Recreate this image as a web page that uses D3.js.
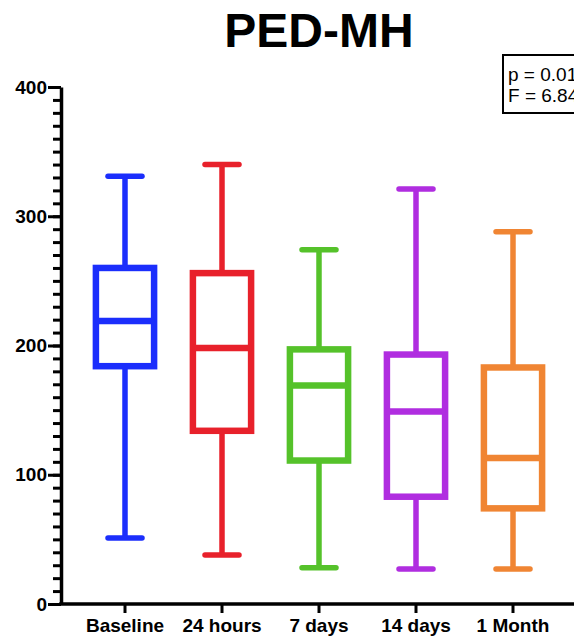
<!DOCTYPE html>
<html>
<head>
<meta charset="utf-8">
<script src="https://cdn.jsdelivr.net/npm/d3@7"></script>
<style>
  body { margin: 0; background: #fff; }
  svg { display: block; font-family: "Liberation Sans", Arial, Helvetica, sans-serif; }
</style>
</head>
<body>
<div class="chart"></div>
<script>
// box plot data
var groups = ["Baseline", "24 hours", "7 days", "14 days", "1 Month"];
var mins    = [51, 38, 28, 27, 27];
var q1s     = [184, 134, 111, 83, 74];
var medians = [219, 198, 169, 149, 113];
var q3s     = [260, 256, 197, 193, 183];
var maxs    = [331, 340, 274, 321, 288];
var colors  = ["#1b2efc", "#e8212b", "#55c22a", "#b02de0", "#f08533"];
var yTicks = [0, 100, 200, 300, 400];
var statLines = ["p = 0.01", "F = 6.84"];

var svgWidth = 574, svgHeight = 638;

var svg = d3.select(".chart")
  .append("svg")
  .attr("width", svgWidth)
  .attr("height", svgHeight);

var axisLeftX = 61;

var yScale = d3.scaleLinear()
  .domain([0, 400])
  .range([604, 87]);

var xScale = d3.scaleBand()
  .domain(groups)
  .range([76.5, 561.5])
  .paddingInner(0.4)
  .paddingOuter(0.2);

var boxes = groups.map(function(g, i) {
  return { name: g, min: mins[i], q1: q1s[i], med: medians[i], q3: q3s[i], max: maxs[i], color: colors[i] };
});

// title
svg.append("text")
  .attr("x", 319)
  .attr("y", 47)
  .attr("text-anchor", "middle")
  .attr("font-size", "48px")
  .attr("font-weight", "bold")
  .text("PED-MH");

// y axis minor ticks
var minorAxis = d3.axisLeft(yScale)
  .tickValues(d3.range(0, 401, 10))
  .tickSize(8)
  .tickFormat("");
var gMinor = svg.append("g")
  .attr("transform", "translate(" + axisLeftX + ",0)")
  .call(minorAxis);
gMinor.select(".domain").remove();
gMinor.selectAll("line").attr("stroke", "#000").attr("stroke-width", 3);

// y axis major ticks with labels
var majorAxis = d3.axisLeft(yScale)
  .tickValues(yTicks)
  .tickSize(13)
  .tickSizeOuter(0)
  .tickPadding(1);
var gMajor = svg.append("g")
  .attr("transform", "translate(" + axisLeftX + ",0)")
  .call(majorAxis);
gMajor.select(".domain").attr("stroke", "#000").attr("stroke-width", 3.5);
gMajor.selectAll("line").attr("stroke", "#000").attr("stroke-width", 3);
gMajor.selectAll("text")
  .attr("font-size", "19px")
  .attr("font-weight", "bold")
  .attr("fill", "#000")
  .attr("font-family", "inherit");

// x axis
var xAxis = d3.axisBottom(xScale).tickSize(9).tickSizeOuter(0).tickPadding(6);
var gX = svg.append("g")
  .attr("transform", "translate(0," + yScale(0) + ")")
  .call(xAxis);
gX.select(".domain").remove();
gX.selectAll("line").attr("stroke", "#000").attr("stroke-width", 3);
gX.selectAll("text")
  .attr("font-size", "19px")
  .attr("font-weight", "bold")
  .attr("fill", "#000")
  .attr("font-family", "inherit");
svg.append("line")
  .attr("x1", axisLeftX - 1.75)
  .attr("x2", svgWidth)
  .attr("y1", yScale(0))
  .attr("y2", yScale(0))
  .attr("stroke", "#000")
  .attr("stroke-width", 3.5);

// boxes
var bw = xScale.bandwidth();
var capHalf = 17;
var box = svg.append("g").selectAll("g")
  .data(boxes)
  .enter()
  .append("g");

// whiskers
box.append("line")
  .attr("x1", d => xScale(d.name) + bw / 2)
  .attr("x2", d => xScale(d.name) + bw / 2)
  .attr("y1", d => yScale(d.max))
  .attr("y2", d => yScale(d.q3))
  .attr("stroke", d => d.color)
  .attr("stroke-width", 5.5);
box.append("line")
  .attr("x1", d => xScale(d.name) + bw / 2)
  .attr("x2", d => xScale(d.name) + bw / 2)
  .attr("y1", d => yScale(d.q1))
  .attr("y2", d => yScale(d.min))
  .attr("stroke", d => d.color)
  .attr("stroke-width", 5.5);

// caps
["max", "min"].forEach(function(k) {
  box.append("line")
    .attr("x1", d => xScale(d.name) + bw / 2 - capHalf)
    .attr("x2", d => xScale(d.name) + bw / 2 + capHalf)
    .attr("y1", d => yScale(d[k]))
    .attr("y2", d => yScale(d[k]))
    .attr("stroke", d => d.color)
    .attr("stroke-width", 5.5)
    .attr("stroke-linecap", "round");
});

// box body
box.append("rect")
  .attr("x", d => xScale(d.name))
  .attr("width", bw)
  .attr("y", d => yScale(d.q3))
  .attr("height", d => yScale(d.q1) - yScale(d.q3))
  .attr("fill", "none")
  .attr("stroke", d => d.color)
  .attr("stroke-width", 6.5);

// median
box.append("line")
  .attr("x1", d => xScale(d.name))
  .attr("x2", d => xScale(d.name) + bw)
  .attr("y1", d => yScale(d.med))
  .attr("y2", d => yScale(d.med))
  .attr("stroke", d => d.color)
  .attr("stroke-width", 6.5);

// stats box (cut off at the right edge)
svg.append("rect")
  .attr("x", 503)
  .attr("y", 55)
  .attr("width", 100)
  .attr("height", 58)
  .attr("fill", "#fff")
  .attr("stroke", "#000")
  .attr("stroke-width", 2);
svg.append("g").selectAll("text")
  .data(statLines)
  .enter()
  .append("text")
  .attr("x", 508)
  .attr("y", (d, i) => 81 + i * 21)
  .attr("font-size", "19px")
  .text(d => d);
</script>
</body>
</html>
